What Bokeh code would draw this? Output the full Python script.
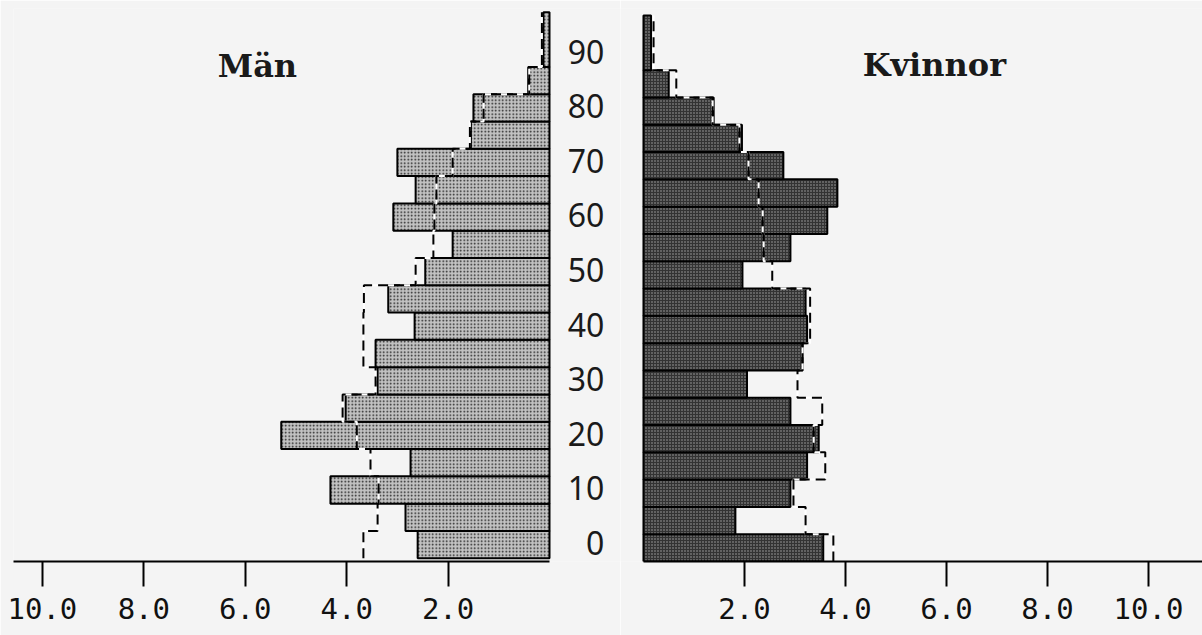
from bokeh.plotting import figure
from bokeh.layouts import row
from bokeh.models import Range1d, FixedTicker, NumeralTickFormatter
from bokeh.core.properties import value
from bokeh.embed import file_html
from bokeh.resources import INLINE

# ---- data -------------------------------------------------------------
age_start = [0, 5, 10, 15, 20, 25, 30, 35, 40, 45, 50, 55, 60, 65, 70, 75, 80, 85, 90]
age_end = [5, 10, 15, 20, 25, 30, 35, 40, 45, 50, 55, 60, 65, 70, 75, 80, 85, 90, 100]
age_tick_values = [0, 10, 20, 30, 40, 50, 60, 70, 80, 90]
age_tick_labels = ["0", "10", "20", "30", "40", "50", "60", "70", "80", "90"]

men_pct = [2.60, 2.84, 4.32, 2.74, 5.29, 4.02, 3.39, 3.43, 2.66, 3.18,
           2.45, 1.91, 3.08, 2.64, 3.00, 1.55, 1.50, 0.42, 0.12]
men_compare = [3.67, 3.39, 3.37, 3.53, 3.80, 4.08, 3.43, 3.67, 3.67, 3.66,
               2.64, 2.29, 2.27, 2.23, 1.91, 1.57, 1.30, 0.40, 0.15]
women_pct = [3.56, 1.82, 2.91, 3.24, 3.47, 2.91, 2.05, 3.15, 3.24, 3.21,
             1.96, 2.91, 3.64, 3.84, 2.77, 1.95, 1.39, 0.50, 0.15]
women_compare = [3.76, 3.21, 2.97, 3.60, 3.37, 3.54, 3.05, 3.15, 3.30, 3.30,
                 2.55, 2.38, 2.36, 2.28, 2.08, 1.90, 1.37, 0.65, 0.20]
pct_ticks = [2, 4, 6, 8, 10]
title_men = "Män"
title_women = "Kvinnor"

BG = "#f4f4f4"


def step_path(vals, starts, ends):
    xs, ys = [], []
    for v, s, e in zip(vals, starts, ends):
        xs += [v, v]
        ys += [s, e]
    return xs, ys


def style_axis(p, xmax):
    ax = p.xaxis[0]
    ax.ticker = FixedTicker(ticks=pct_ticks)
    ax.formatter = NumeralTickFormatter(format="0.0")
    ax.bounds = (0, xmax)
    ax.axis_line_width = 2
    ax.axis_line_color = "black"
    ax.major_tick_in = 0
    ax.major_tick_out = 25
    ax.major_tick_line_width = 2
    ax.major_tick_line_color = "black"
    ax.minor_tick_line_color = None
    ax.major_label_standoff = 11
    ax.major_label_text_font = "DejaVu Sans Mono"
    ax.major_label_text_font_size = "29px"
    ax.major_label_text_color = "#111111"


def make_fig(xr, yr, width, mb_left):
    p = figure(width=width, height=635, x_range=xr, y_range=yr,
               output_backend="svg", toolbar_location=None,
               y_axis_location=None, min_border_left=mb_left,
               min_border_right=0, min_border_top=8, min_border_bottom=74)
    p.grid.visible = False
    p.outline_line_color = None
    p.background_fill_color = BG
    p.border_fill_color = BG
    return p


# ---- left panel (Män) --------------------------------------------------
L_MAX = 10.57
p1 = make_fig(Range1d(L_MAX, -1.40), Range1d(-0.6, 100.7), 620, 13)
p1.quad(left=0, right=men_pct, bottom=age_start, top=age_end,
        fill_color="#c2c2c2", hatch_pattern="dot", hatch_color="#1e1e1e",
        hatch_scale=3.5, line_color="black", line_width=2)
mx, my = step_path(men_compare, age_start, age_end)
p1.line(mx, my, line_color="white", line_width=2, line_dash="10 6",
        line_dash_offset=10)
p1.line(mx, my, line_color="black", line_width=2, line_dash="10 6")
style_axis(p1, L_MAX)
p1.text(x=[-1.08] * len(age_tick_values), y=[a + 2.8 for a in age_tick_values],
        text=age_tick_labels, text_font=value("Noto Sans"),
        text_font_size="32px", text_align="right", text_baseline="middle",
        text_color="#1a1a1a")
p1.text(x=[5.76], y=[90.1], text=[title_men], text_font=value("DejaVu Serif"),
        text_font_style="bold", text_font_size="32px", text_align="center",
        text_baseline="alphabetic", text_color="#1a1a1a")

# ---- right panel (Kvinnor) -------------------------------------------
R_MAX = 11.07
p2 = make_fig(Range1d(-0.455, R_MAX), Range1d(0, 101.3), 582, 0)
p2.quad(left=0, right=women_pct, bottom=age_start, top=age_end,
        fill_color="#333333", hatch_pattern="dot", hatch_color="#a8a8a8",
        hatch_scale=3, line_color="black", line_width=2)
wx, wy = step_path(women_compare, age_start, age_end)
p2.line(wx, wy, line_color="white", line_width=2, line_dash="10 6",
        line_dash_offset=10)
p2.line(wx, wy, line_color="black", line_width=2, line_dash="10 6")
style_axis(p2, R_MAX)
p2.text(x=[5.76], y=[90.9], text=[title_women], text_font=value("DejaVu Serif"),
        text_font_style="bold", text_font_size="32px", text_align="center",
        text_baseline="alphabetic", text_color="#1a1a1a")

layout = row(p1, p2)
open("out.html", "w").write(file_html(layout, INLINE))
